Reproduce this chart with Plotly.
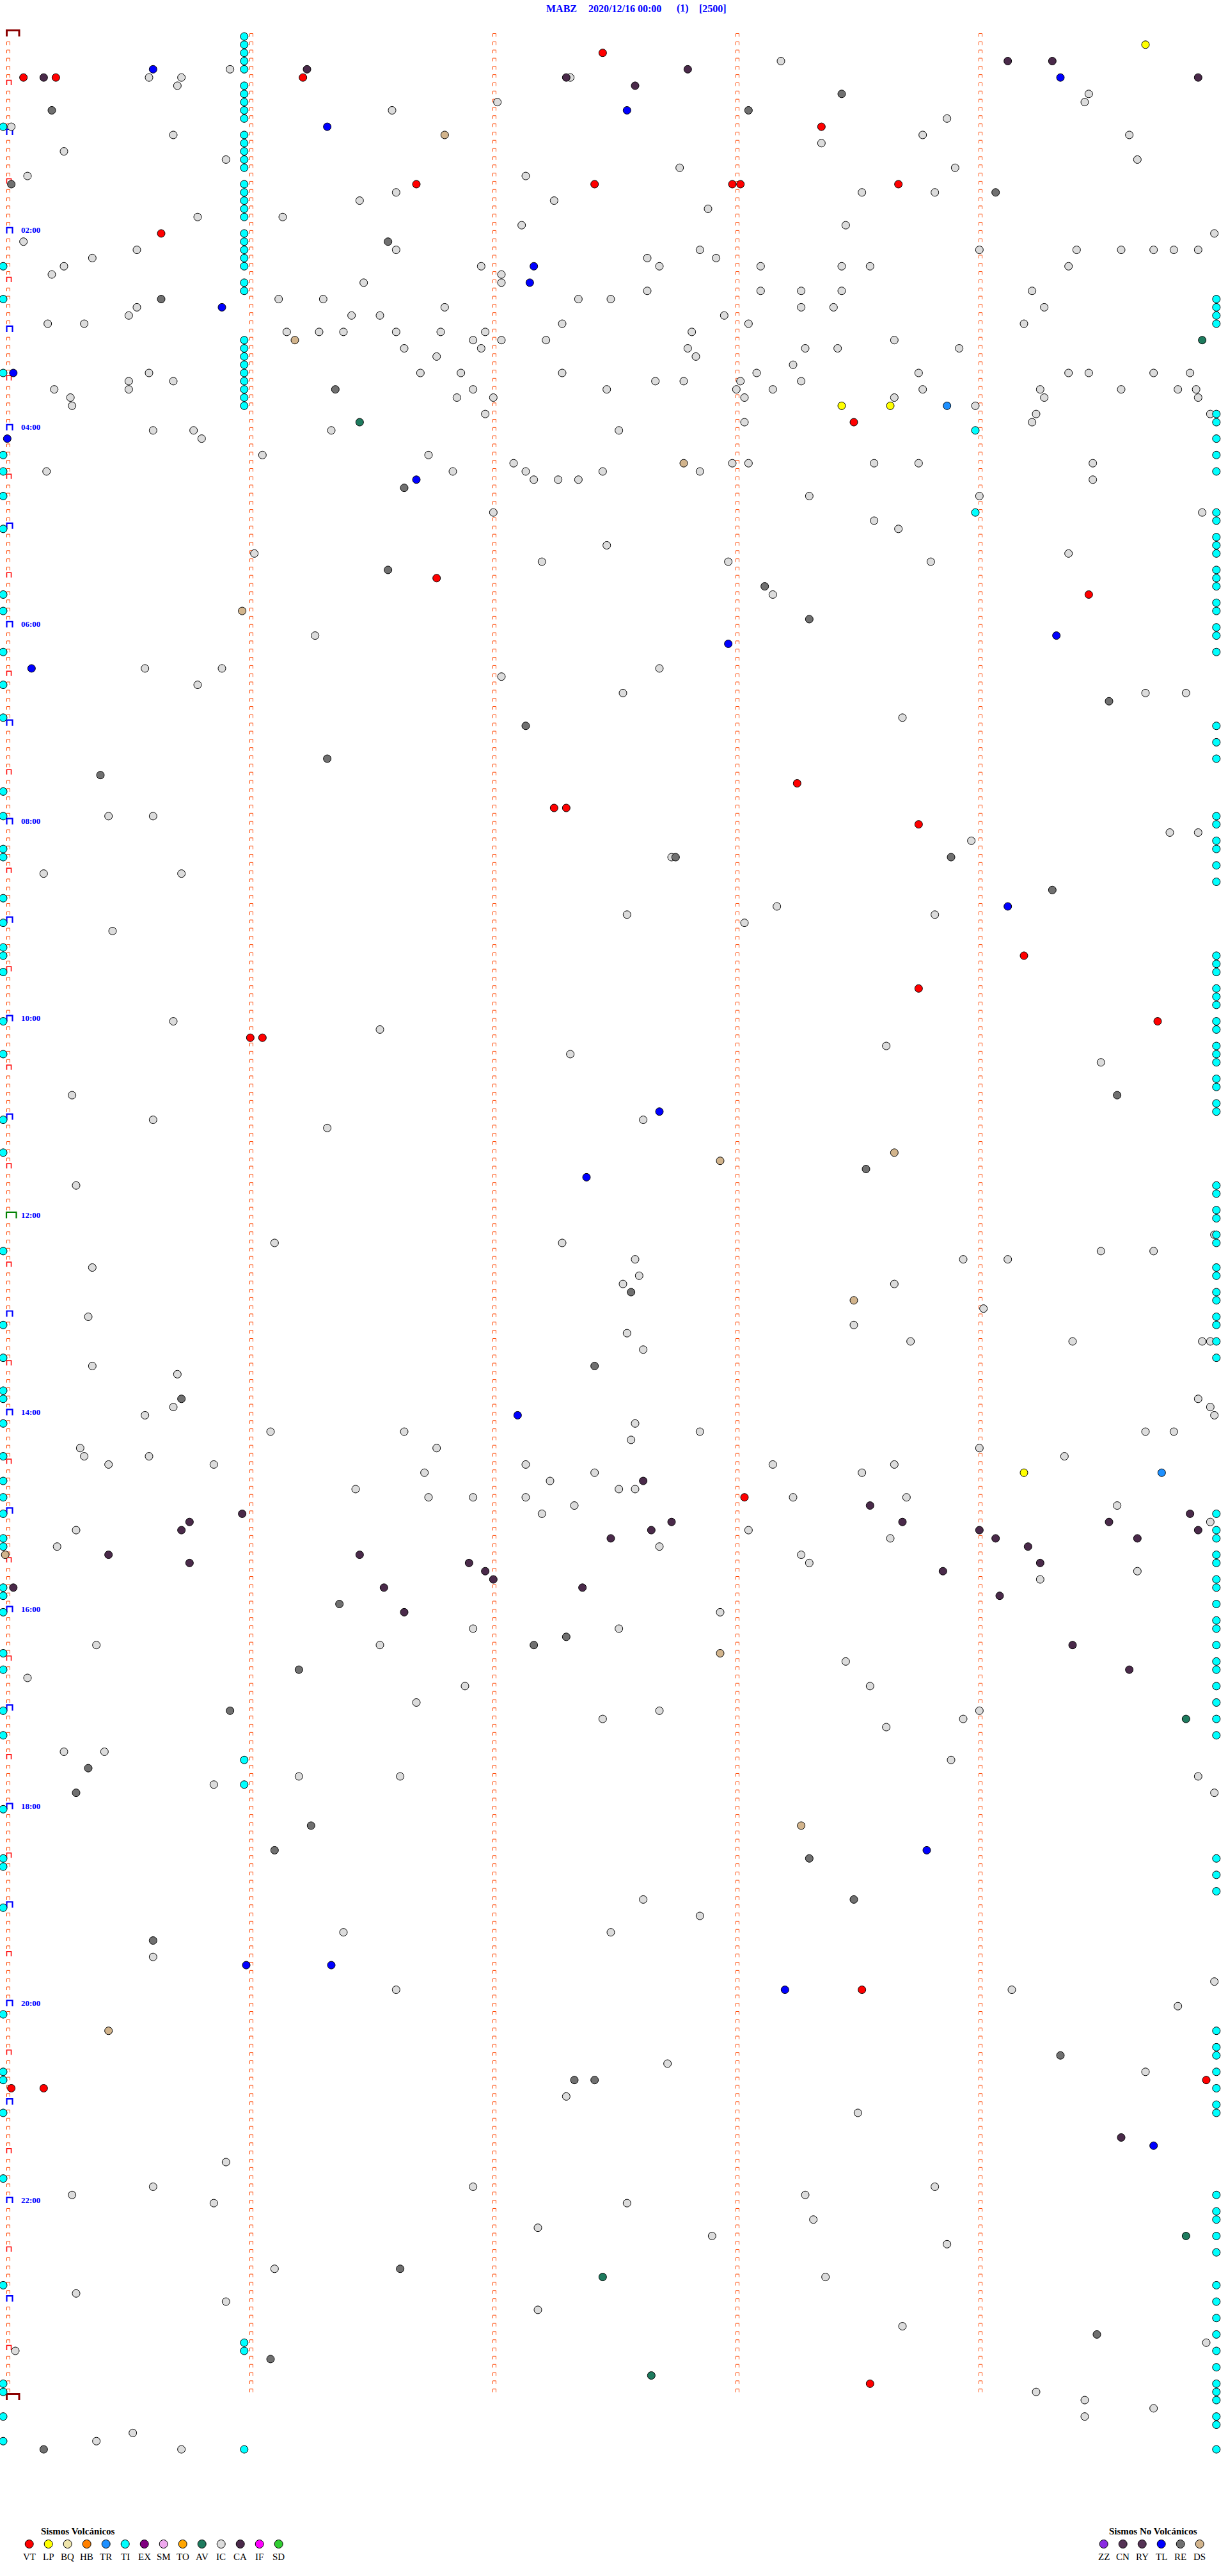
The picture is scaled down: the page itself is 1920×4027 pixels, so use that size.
import plotly.graph_objects as go

# ---------------- data ----------------
# every event = (5-minute window index counted from 00:00, seconds into that window)
VT = [(2,148),(5,5),(5,13),(5,74),(11,202),(18,102),(18,146),(18,180),(18,182),(18,221),(24,39),(47,210),
      (66,107),(68,268),(91,196),(94,136),(94,139),(96,226),(112,252),(116,226),(120,285),(122,61),(122,64),
      (178,183),(238,212),(249,297),(250,2),(250,10),(286,214)]
LP = [(1,282),(45,207),(45,219),(175,252)]
TR = [(45,233),(175,286)]
TL = [(4,37),(5,261),(9,154),(11,80),(28,131),(30,130),(33,54),(41,2.5),(49,1),(54,102),(73,260),(74,179),
      (77,7),(106,248),(131,162),(139,144),(168,127),(221,228),(235,60),(235,81),(238,193),(257,284)]
RE = [(7,207),(9,12),(9,184),(18,2),(19,245),(25,95),(32,39),(43,82),(55,99),(65,95),(67,188),(71,199),(81,273),
      (84,129),(88,80),(90,24),(100,234),(100,166),(104,259),(129,275),(138,213),(153,155),(162,146),(166,44),
      (191,83),(195,139),(196,131),(199,73),(204,56),(211,21),(214,18),(218,76),(221,67),(222,199),(227,210),
      (232,37),(246,261),(249,141),(249,146),(272,98),(280,270),(283,66),(294,10)]
CA = [(3,248),(3,259),(4,75),(4,169),(5,10),(5,139),(5,295),(6,156),(176,158),(179,214),(180,59),(180,293),
      (181,46),(181,165),(181,222),(181,273),(182,44),(182,160),(182,241),(182,295),(183,150),(183,245),(183,280),
      (184,253),(185,26),(185,88),(186,46),(186,115),(186,256),(187,119),(187,232),(188,121),(189,94),(189,143),
      (189,2.5),(190,246),(192,99),(196,264),(199,278),(256,276)]
DS = [(12,109),(37,72),(52,168),(70,59),(136,220),(137,177),(154,210),(185,0.5),(197,177),(218,197),(243,26)]
AV = [(37,296),(47,88),(205,292),(268,292),(273,148),(285,160)]
IC = [(3,192),(4,56),(5,36),(5,44),(5,140),(6,43),(7,268),(8,122),(8,267),(9,96),(10,233),(11,2),(12,42),(12,227),
      (12,278),(13,202),(14,15),(15,55),(15,280),(16,167),(16,235),(17,6),(17,129),(19,97),(19,212),(19,230),(20,88),
      (20,136),(21,174),(22,48),(22,69),(23,208),(23,128),(26,97),(27,22),(26,33),(25,5),(26,241),(26,265),(28,263),
      (26,276),(26,284),(26,289),(26,295),(24,299),(28,118),(29,123),(30,123),(27,159),(28,162),(26,172),(27,176),
      (28,187),(28,207),(28,214),(28,15),(29,12),(32,68),(34,31),(33,33),(35,20),(35,11),(36,70),(36,78),(36,84),
      (32,79),(34,86),(30,89),(34,93),(36,97),(38,99),(33,109),(36,108),(39,107),(41,103),(44,112),(43,116),(46,119),
      (44,121),(37,123),(36,119),(38,118),(41,113),(37,116),(31,254),(33,257),(35,252),(41,268),(41,263),(43,256),
      (44,257),(46,255),(47,254),(43,276),(41,284),(43,290),(41,293),(43,294.5),(44,295),(46,298),(38,236),(41,226),
      (43,227),(45,240),(56,241),(44,220),(37,220),(38,206),(38,198),(33,205),(31,207),(31,197),(33,197),(31,187),
      (35,184),(34,178),(36,170),(39,171),(38,169),(42,161),(42,168),(42,182),(44,183),(47,183),(43,181),(41,186),
      (43,190),(42,197),(40,195),(52,180),(52,184),(53,172),(48,152),(43,149),(41,138),(37,134),(35,138),(32,142),
      (32,150),(31,159),(51,64),(48,81),(51,105),(53,111),(52,126),(53,129),(54,131),(54,137),(54,142),(53,148),
      (58,121),(62,149),(64,133),(63,62),(64,179),(68,190),(59,215),(60,221),(56,199),(52,215),(52,226),(64,229),
      (63,263),(52,269),(54,269),(58,296),(53,10.7),(43,12.6),(44,16.6),(45,17),(42,31),(43,31),(41,36),(42,42),
      (48,37),(48,47),(49,49),(73,77),(77,35),(79,48),(77,54),(78,123),(80,153),(77,162),(83,222),(80,282),(80,292),
      (95,26),(95,37),(97,288),(97,295),(98,239),(100,165),(102,44),(102,10),(106,191),(107,154),(107,230),(108,183),
      (109,27),(120,42),(121,93),(123,218),(124,140),(125,271),(129,17),(132,37),(133,80),(132,158),(140,18),(147,67),
      (147,138),(149,156),(151,157),(152,153),(150,22),(149,237),(149,248),(152,220),(157,210),(148,271),(148,284),
      (146,299),(156,21),(155,242),(158,154),(159,298),(159,296),(159,224),(159,264),(162,22),(160,158),(163,43),
      (168,35),(167,42),(169,156),(171,155),(170,172),(166,295),(167,298),(168,299),(170,282),(170,289),(170,66),
      (170,99),(172,107),(172,19),(173,20),(174,26),(173,36),(174,52),(174,129),(175,104),(176,135),(175,146),
      (177,156),(177,152),(174,190),(175,212),(174,220),(172,241),(173,262),(177,87),(178,105),(178,116),(178,129),
      (179,141),(178,195),(178,223),(179,275),(181,298),(182,18),(180,133),(184,162),(182,184),(183,219),(185,197),
      (186,199),(188,256),(187,280),(184,13.3),(196,23),(196,93),(194,116),(194,152),(192,177),(200,6),(201,114),
      (198,208),(201,214),(205,148),(204,162),(203,102),(204,241),(205,237),(206,218),(209,15),(209,25),(213,52),
      (212,73),(212,98),(210,234),(212,295),(214,299),(227,158),(229,172),(231,150),(231,84),(234,37),(238,97),
      (238,249),(237,299),(240,290),(247,164),(248,282),(251,139),(253,211),(259,55),(262,37),(264,52),(263,17),
      (262,116),(264,154),(263,198),(266,200),(262,230),(268,175),(267,132),(269,233),(272,67),(273,203),(275,18),
      (276,55),(277,132),(279,222),(281,297),(282,3),(287,255),(288,267),(290,267),(289,284),(292,32),(293,23),(294,44)]
# TI tremors: windows in which a TI dot sits at a given second of the window
TI_SEC_A = 0
TI_WIN_A = [11,28,32,41,51,53,56,60,68,70,75,79,83,92,95,99,100,105,108,111,112,114,120,124,132,136,148,157,161,
            165,166,169,173,176,178,180,183,184,189,190,192,197,199,204,207,216,222,223,228,241,248,249,253,261,274,
            286,287,290,293]
TI_SEC_B = 59.5
TI_WIN_B = [0,1,2,3,4,6,7,8,9,10,12,13,14,15,16,18,19,20,21,22,24,25,26,27,28,30,31,37,38,39,40,41,42,43,44,45,
            210,213,281,282,294]
TI_SEC_C = 299.5
TI_WIN_C = [32,33,34,35,46,47,49,51,53,58,59,61,62,63,65,66,67,69,70,72,73,75,84,86,88,95,96,98,99,101,103,112,113,
            114,116,117,118,120,121,123,124,125,127,128,130,131,140,141,143,144,146,147,150,151,153,154,156,157,159,
            161,180,182,183,185,186,188,189,191,193,194,196,198,199,201,203,205,207,222,224,226,243,245,246,248,250,
            252,253,263,265,266,268,270,274,276,278,280,282,284,286,287,288,290,291,294]
TI_SEC_D = 240
TI_WIN_D = [48, 58]

HOURS = list(range(0, 25))
STATION = "MABZ"
DATE = "2020/12/16 00:00"
CHANNEL = "(1)"
SCALE = "[2500]"

VOLC = [("VT", "#FF0000"), ("LP", "#FFFF00"), ("BQ", "#EEE4AA"), ("HB", "#FF8000"), ("TR", "#1E90FF"),
        ("TI", "#00FFFF"), ("EX", "#800080"), ("SM", "#EEA8EE"), ("TO", "#FFA500"), ("AV", "#1E7B5E"),
        ("IC", "#DCDCDC"), ("CA", "#4A2A4A"), ("IF", "#FF00FF"), ("SD", "#32CD32")]
NOVOLC = [("ZZ", "#8A2BE2"), ("CN", "#553355"), ("RY", "#553355"), ("TL", "#0000FF"), ("RE", "#707070"),
          ("DS", "#D2B48C")]
COL = dict(VOLC + NOVOLC)

# ---------------- geometry ----------------
W, H = 1920, 4027                # page size (body margin removed by post_script)
X0, SX = 5.0, 380.0 / 60.0       # page px of second 0, px per second
Y0, SY = 57.0, 12.83             # page px of window 0, px per window
NWIN = 288

def dx(px):
    return (px - X0) / SX

def dy(py):
    return (py - Y0) / SY

def px2paper(px, py):
    return px / W, 1 - py / H

fig = go.Figure()

# tick marks along the minute columns
def bracket_trace(items, color, width):
    xs, ys = [], []
    for (xl, xr, yt, yb) in items:
        xs += [dx(xl), dx(xl), dx(xr), dx(xr), None]
        ys += [dy(yb), dy(yt), dy(yt), dy(yb), None]
    fig.add_trace(go.Scatter(x=xs, y=ys, mode="lines", line=dict(color=color, width=width),
                             hoverinfo="skip", showlegend=False, cliponaxis=False))

small, half, hour, day, noon = [], [], [], [], []
for w in range(NWIN + 1):
    yc = Y0 + SY * w
    for m in range(5):
        xl = 10 + 380 * m
        if m == 0 and w % 6 == 0:
            if w in (0, NWIN):
                day.append((10.5, 30, yc - 9.5, yc))
            elif w == NWIN // 2:
                noon.append((10, 25.5, yc - 9.5, yc))
            elif w % 12 == 0:
                hour.append((10.5, 19.5, yc - 9, yc))
            else:
                half.append((10.5, 17.5, yc - 8.5, yc - 1))
        elif w < NWIN:
            small.append((xl + 0.5, xl + 5.5, yc - 4.5, yc + 0.5))
bracket_trace(small, "#FF4500", 1)
bracket_trace(half, "#FF0000", 1.5)
bracket_trace(hour, "#0000FF", 2.2)
bracket_trace(day, "#8B0000", 3)
bracket_trace(noon, "#008000", 2.2)

def add(evts, color):
    fig.add_trace(go.Scatter(x=[e[1] for e in evts], y=[e[0] for e in evts], mode="markers",
                             marker=dict(size=12, color=color, line=dict(color="black", width=1)),
                             cliponaxis=False, showlegend=False, hoverinfo="skip"))

TI = ([(w, TI_SEC_A) for w in TI_WIN_A] + [(w, TI_SEC_B) for w in TI_WIN_B] +
      [(w, TI_SEC_C) for w in TI_WIN_C] + [(w, TI_SEC_D) for w in TI_WIN_D])
add(IC, COL["IC"])
add(TI, COL["TI"])
add(RE, COL["RE"])
add(CA, COL["CA"])
add(DS, COL["DS"])
add(AV, COL["AV"])
add(TL, COL["TL"])
add(TR, COL["TR"])
add(LP, COL["LP"])
add(VT, COL["VT"])

ann = []
shapes = []
SERIF = "Liberation Serif"

def text(px, py, s, size, color, bold=True, xanchor="left"):
    x, y = px2paper(px, py)
    ann.append(dict(x=x, y=y, xref="paper", yref="paper", text=s, showarrow=False, xanchor=xanchor,
                    yanchor="middle", borderpad=0,
                    font=dict(family=SERIF, size=size, color=color, weight="bold" if bold else "normal")))

# title
text(853, 13, STATION, 16, "#0000FF")
text(919, 13, DATE, 16, "#0000FF")
text(1057, 13, CHANNEL, 16, "#0000FF")
text(1092, 13, SCALE, 16, "#0000FF")

# hour labels
for h in HOURS:
    if h % 2 == 0 and 0 < h < 24:
        text(32, Y0 + SY * h * 12 - 5, f"{h:02d}:00", 13, "#0000FF")

# legends
def legend(x_start, title_x, title, items):
    text(title_x, 3957, title, 15, "black")
    for i, (lab, c) in enumerate(items):
        cx = x_start + 30 * i
        x0, y0 = px2paper(cx - 6.5, 3977 - 6.5)
        x1, y1 = px2paper(cx + 6.5, 3977 + 6.5)
        shapes.append(dict(type="circle", xref="paper", yref="paper", x0=x0, x1=x1, y0=y0, y1=y1,
                           fillcolor=c, line=dict(color="black", width=1)))
        text(cx, 3997, lab, 15, "black", bold=False, xanchor="center")

legend(45.7, 63, "Sismos Volcánicos", VOLC)
legend(1725.7, 1733, "Sismos No Volcánicos", NOVOLC)

fig.update_layout(
    width=W, height=H,
    margin=dict(l=0, r=0, t=0, b=0, pad=0),
    paper_bgcolor="white", plot_bgcolor="white",
    xaxis=dict(range=[dx(0), dx(W)], visible=False, fixedrange=True),
    yaxis=dict(range=[dy(H), dy(0)], visible=False, fixedrange=True),
    annotations=ann, shapes=shapes, showlegend=False,
)
fig.write_html("out.html", config={"displayModeBar": False},
               post_script="document.body.style.margin='0';document.body.style.overflow='hidden';")
